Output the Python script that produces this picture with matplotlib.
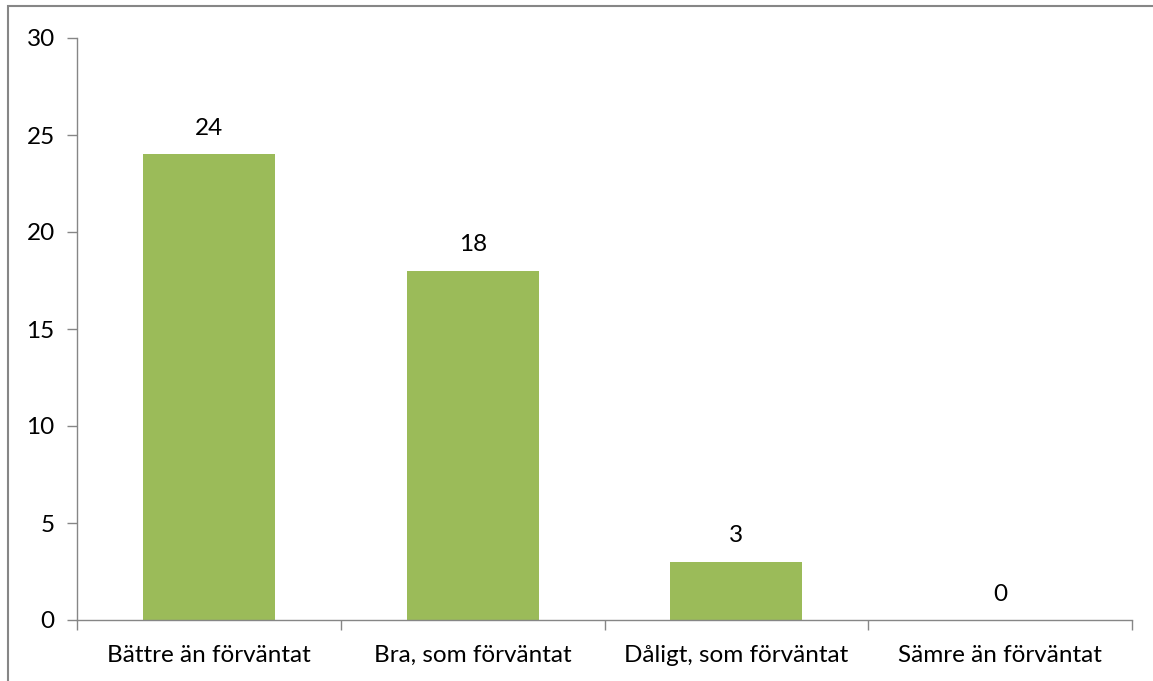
import matplotlib
matplotlib.use("Agg")
import matplotlib.pyplot as plt
from matplotlib.patches import Rectangle

categories = ["Bättre än förväntat", "Bra, som förväntat", "Dåligt, som förväntat", "Sämre än förväntat"]
values = [24, 18, 3, 0]
y_ticks = [0, 5, 10, 15, 20, 25, 30]

W, H = 1153, 681
FS = 17.5
plt.rcParams['font.family'] = ['Lato', 'DejaVu Sans']

fig = plt.figure(figsize=(W / 100, H / 100), dpi=100)
# outer chart border (cropped on right and bottom)
fig.patches.append(Rectangle((8 / W, -0.1), 1.2, 1 - 6 / H + 0.1, transform=fig.transFigure,
                             fill=False, edgecolor='#868686', linewidth=1.5))

ax = fig.add_axes([77 / W, 1 - 620 / H, (1132 - 77) / W, (620 - 38) / H])
x = list(range(len(categories)))
ax.bar(x, values, width=0.5, color='#9BBB59')

for xi, v in zip(x, values):
    ax.annotate(str(v), (xi, v), xytext=(0, 14), textcoords='offset points',
                ha='center', va='baseline', fontsize=FS)

ax.set_xlim(-0.5, len(categories) - 0.5)
ax.set_ylim(0, 30)
ax.set_yticks(y_ticks)
ax.set_xticks(x)
ax.set_xticklabels(categories, fontsize=FS)
for lab in ax.get_xticklabels():
    lab.set_verticalalignment('baseline')
ax.tick_params(axis='x', length=0, pad=30)
ax.set_xticks([i - 0.5 for i in range(len(categories) + 1)], minor=True)
ax.tick_params(axis='x', which='minor', length=7, color='#868686', width=1)
ax.tick_params(axis='y', labelsize=FS, length=7, color='#868686', width=1, pad=9)

for s in ['top', 'right']:
    ax.spines[s].set_visible(False)
for s in ['left', 'bottom']:
    ax.spines[s].set_color('#868686')
    ax.spines[s].set_linewidth(1)

fig.savefig('out.png', dpi=100)
